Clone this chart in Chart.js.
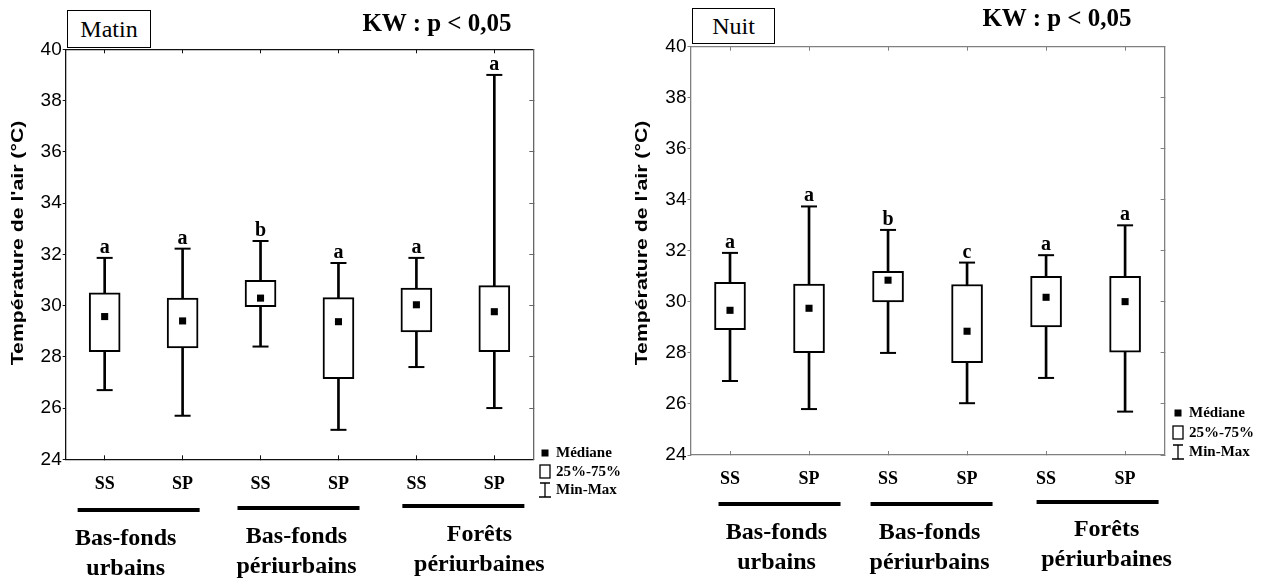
<!DOCTYPE html>
<html><head><meta charset="utf-8">
<script src="https://cdn.jsdelivr.net/npm/chart.js@4/dist/chart.umd.min.js"></script>
<style>
body{margin:0;background:#fff;width:1269px;height:581px;overflow:hidden;position:relative;}
canvas{position:absolute;top:0;}
.tbox{position:absolute;border:1.5px solid #000;box-sizing:border-box;font-family:'Liberation Serif',serif;font-size:24px;display:flex;align-items:center;justify-content:center;background:#fff;color:#000;}
.kw{position:absolute;font-family:'Liberation Serif',serif;font-weight:bold;font-size:25px;transform:translate(-50%,-50%);white-space:nowrap;color:#000;}
</style></head><body>
<canvas id="c1" width="630" height="581" style="left:0;width:630px;height:581px"></canvas>
<canvas id="c2" width="639" height="581" style="left:630px;width:639px;height:581px"></canvas>
<div class="tbox" id="t1" style="left:67px;top:10px;width:84px;height:38px"></div>
<div class="tbox" id="t2" style="left:692px;top:8px;width:83px;height:36px"></div>
<div class="kw" id="k1" style="left:437px;top:23px"></div>
<div class="kw" id="k2" style="left:1057px;top:18px"></div>
<script>
// ---------- DATA ----------
const categories = ['SS', 'SP', 'SS', 'SP', 'SS', 'SP'];
const groupNames = [['Bas-fonds', 'urbains'], ['Bas-fonds', 'périurbains'], ['Forêts', 'périurbaines']];
const yTitle = "Température de l'air (°C)";
const statText = 'KW : p < 0,05';
const panelTitles = ['Matin', 'Nuit'];
const legendLabels = ['Médiane', '25%-75%', 'Min-Max'];
const yMin = 24, yMax = 40, yStep = 2;

const matinMin    = [26.7, 25.7, 28.4, 25.15, 27.6, 26.0];
const matinQ1     = [28.2, 28.35, 29.96, 27.15, 28.97, 28.2];
const matinMedian = [29.57, 29.4, 30.29, 29.37, 30.03, 29.76];
const matinQ3     = [30.5, 30.29, 30.98, 30.31, 30.68, 30.78];
const matinMax    = [31.86, 32.22, 32.52, 31.66, 31.86, 39.0];
const matinLetters = ['a', 'a', 'b', 'a', 'a', 'a'];

const nuitMin    = [26.9, 25.8, 28.0, 26.03, 27.02, 25.7];
const nuitQ1     = [28.91, 28.01, 30.0, 27.62, 29.02, 28.03];
const nuitMedian = [29.67, 29.75, 30.85, 28.85, 30.18, 30.01];
const nuitQ3     = [30.77, 30.7, 31.2, 30.68, 31.0, 31.0];
const nuitMax    = [31.92, 33.74, 32.82, 31.54, 31.83, 33.0];
const nuitLetters = ['a', 'a', 'b', 'c', 'a', 'a'];

document.getElementById('t1').textContent = panelTitles[0];
document.getElementById('t2').textContent = panelTitles[1];
document.getElementById('k1').textContent = statText;
document.getElementById('k2').textContent = statText;

const SERIF = '"Liberation Serif", "Times New Roman", serif';
const SANS = '"Liberation Sans", Arial, sans-serif';

function makeChart(id, d, L) {
  const extras = {
    id: 'extras',
    afterDraw(chart) {
      const ctx = chart.ctx, xs = chart.scales.x, ys = chart.scales.y;
      ctx.save();
      // significance letters
      ctx.fillStyle = '#000';
      ctx.font = 'bold 20px ' + SERIF;
      ctx.textAlign = 'center';
      ctx.textBaseline = 'alphabetic';
      d.letters.forEach((t, i) => {
        ctx.fillText(t, xs.getPixelForValue(i), ys.getPixelForValue(d.max[i]) - 5);
      });
      // y title
      ctx.save();
      ctx.translate(L.titleX, L.titleY);
      ctx.rotate(-Math.PI / 2);
      ctx.scale(1.25, 1);
      ctx.font = 'bold 17px ' + SANS;
      ctx.textBaseline = 'middle';
      ctx.fillText(yTitle, 0, 0);
      ctx.restore();
      // group bars and labels
      groupNames.forEach((g, k) => {
        const cx = (xs.getPixelForValue(2 * k) + xs.getPixelForValue(2 * k + 1)) / 2;
        const lx = cx + L.lineDx[k];
        ctx.fillRect(lx - 61, L.lineY[k] - 2, 122, 4);
        ctx.font = 'bold 24px ' + SERIF;
        ctx.textAlign = 'center';
        ctx.fillText(g[0], cx + L.labelDx[k], L.labelY1[k]);
        ctx.fillText(g[1], cx + L.labelDx[k], L.labelY1[k] + 30);
      });
      // legend
      const [r1, r2, r3] = L.legendRows;
      const mx = L.legendX;
      ctx.fillRect(mx - 3.5, r1 - 3.5, 7, 7);
      ctx.lineWidth = 1.3;
      ctx.strokeStyle = '#000';
      ctx.strokeRect(mx - 5, r2 - 7, 10, 13);
      ctx.beginPath();
      ctx.moveTo(mx - 5, r3 - 7); ctx.lineTo(mx + 5, r3 - 7);
      ctx.moveTo(mx, r3 - 7); ctx.lineTo(mx, r3 + 7);
      ctx.moveTo(mx - 6, r3 + 7); ctx.lineTo(mx + 6, r3 + 7);
      ctx.stroke();
      ctx.font = 'bold 15px ' + SERIF;
      ctx.textAlign = 'left';
      ctx.textBaseline = 'middle';
      ctx.fillText(legendLabels[0], mx + 11, r1);
      ctx.fillText(legendLabels[1], mx + 11, r2);
      ctx.fillText(legendLabels[2], mx + 11, r3);
      ctx.restore();
    }
  };

  const W = L.width, H = 581;
  return new Chart(document.getElementById(id), {
    type: 'bar',
    data: {
      labels: categories,
      datasets: [
        { type: 'line', data: d.median, showLine: false, pointStyle: 'rect', pointRadius: 5,
          pointBackgroundColor: '#000', pointBorderWidth: 0, order: 0, clip: false },
        { type: 'line', data: d.max, showLine: false, pointStyle: 'line', pointRadius: 8,
          pointBorderColor: '#000', pointBorderWidth: 2, order: 1, clip: false },
        { type: 'line', data: d.min, showLine: false, pointStyle: 'line', pointRadius: 8,
          pointBorderColor: '#000', pointBorderWidth: 2, order: 1, clip: false },
        { type: 'bar', data: categories.map((c, i) => [d.q1[i], d.q3[i]]), backgroundColor: '#fff',
          borderColor: '#000', borderWidth: 2, borderSkipped: false, barThickness: 31, grouped: false, order: 2 },
        { type: 'bar', data: categories.map((c, i) => [d.min[i], d.max[i]]), backgroundColor: '#000',
          borderWidth: 0, barThickness: 2, grouped: false, order: 3 }
      ]
    },
    options: {
      responsive: false, animation: false, devicePixelRatio: 1, events: [],
      layout: { padding: 0 },
      plugins: { legend: { display: false }, tooltip: { enabled: false } },
      scales: {
        x: {
          position: 'bottom', offset: true,
          grid: { offset: false, drawOnChartArea: false, drawTicks: true, tickLength: -4, color: L.frame },
          border: { display: true, color: L.frame, width: 1.3 },
          ticks: { color: '#000', font: { family: SERIF, size: 18, weight: 'bold' }, padding: 18, maxRotation: 0 },
          afterFit(s) { s.height = H - L.bottom; }
        },
        x2: {
          type: 'category', labels: categories, position: 'top', offset: true,
          grid: { offset: false, drawOnChartArea: false, drawTicks: true, tickLength: -4, color: L.frame },
          border: { display: true, color: L.frame, width: 1.3 },
          ticks: { display: false },
          afterFit(s) { s.height = L.top; }
        },
        y: {
          position: 'left', min: yMin, max: yMax,
          grid: { drawOnChartArea: false, drawTicks: true, tickLength: 3, color: L.frame },
          border: { display: true, color: L.frame, width: 1.3 },
          ticks: { stepSize: yStep, color: '#000', font: { family: SANS, size: 19 }, padding: 1 },
          afterFit(s) { s.width = L.left; }
        },
        y2: {
          type: 'linear', position: 'right', min: yMin, max: yMax,
          grid: { drawOnChartArea: false, drawTicks: true, tickLength: -4, color: L.frameR },
          border: { display: true, color: L.frameR, width: 1.3 },
          ticks: { display: false, stepSize: yStep },
          afterFit(s) { s.width = W - L.right; }
        }
      }
    },
    plugins: [extras]
  });
}

makeChart('c1',
  { min: matinMin, q1: matinQ1, median: matinMedian, q3: matinQ3, max: matinMax, letters: matinLetters },
  { width: 630, left: 65.7, right: 533.3, top: 49.3, bottom: 459.3, frame: '#111', frameR: '#666',
    titleX: 18, titleY: 243,
    lineDx: [-5, -1, 8], lineY: [510, 508, 506], labelDx: [-18, -3, 24],
    labelY1: [545, 543, 541], legendX: 545, legendRows: [453, 472, 490] });

makeChart('c2',
  { min: nuitMin, q1: nuitQ1, median: nuitMedian, q3: nuitQ3, max: nuitMax, letters: nuitLetters },
  { width: 639, left: 60.5, right: 534.6, top: 46.7, bottom: 455, frame: '#808080', frameR: '#808080',
    titleX: 12, titleY: 243,
    lineDx: [10, 4, 12], lineY: [504, 504, 502], labelDx: [7, 2, 21],
    labelY1: [539, 539, 536], legendX: 548, legendRows: [413, 433, 452] });
</script>
</body></html>
